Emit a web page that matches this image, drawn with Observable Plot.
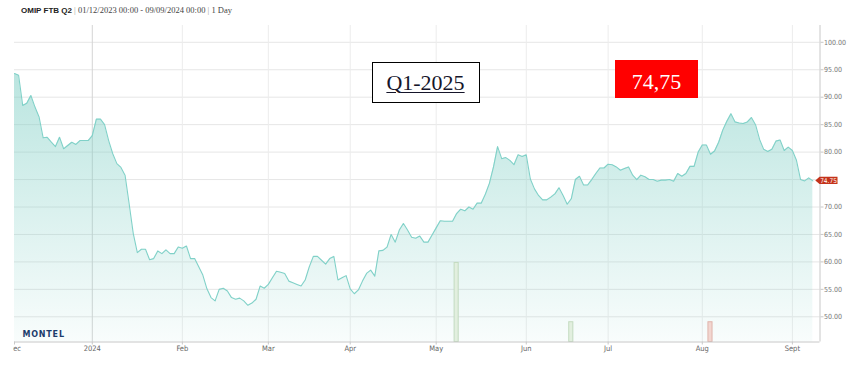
<!DOCTYPE html>
<html>
<head>
<meta charset="utf-8">
<script src="https://cdn.jsdelivr.net/npm/d3@7"></script>
<script src="https://cdn.jsdelivr.net/npm/@observablehq/plot@0.6"></script>
<style>
  html, body { margin: 0; padding: 0; background: #fff; }
  #wrap { position: relative; width: 852px; height: 367px; overflow: hidden; background: #fff; }
  #chart { position: absolute; left: 0; top: 0; }
  .title { position: absolute; left: 21px; top: 5px; white-space: nowrap; font: 8.5px "Liberation Serif", serif; color: #444; }
  .title b { font: bold 8px "Liberation Sans", Arial, sans-serif; color: #222; }
  .title .sep { color: #999; }
  .q1 { position: absolute; left: 371.5px; top: 61.5px; width: 108px; height: 41px; box-sizing: border-box;
        border: 1px solid #000; background: #fff; text-align: center; overflow: hidden;
        font: 22px/39px "Liberation Serif", serif; color: #15152a; }
  .q1 span { text-decoration: underline; text-decoration-thickness: 1px; text-underline-offset: 2px; }
  .price { position: absolute; left: 615px; top: 60px; width: 83px; height: 38px; background: #ff0000;
           text-align: center; font: 22px/44px "Liberation Serif", serif; color: #fff; overflow: hidden; }
  .logo { position: absolute; left: 22.5px; top: 330px; font: bold 8px "DejaVu Sans", sans-serif; letter-spacing: 0.8px; color: #1d3c6c; }
  .mask { position: absolute; left: 0; top: 343px; width: 13px; height: 14px; background: #fff; }
</style>
</head>
<body>
<div id="wrap">
  <div id="chart"></div>
  <div class="title"><b>OMIP FTB Q2</b> <span class="sep">|</span> 01/12/2023 00:00 - 09/09/2024 00:00 <span class="sep">|</span> 1 Day</div>
  <div class="q1"><span>Q1-2025</span></div>
  <div class="price">74,75</div>
  <div class="logo">MONTEL</div>
  <div class="mask"></div>
</div>
<script>
// ---- data ----
const startDate = "2023-12-01";
const endDate = "2024-09-09";
const holidays = ["2023-12-25", "2023-12-26", "2024-01-01", "2024-03-29", "2024-04-01", "2024-05-01"];

const values = [
  94.3, 94.0, 88.5, 88.9, 90.3, 88.2, 86.4, 82.6, 82.7, 81.8,
  81.0, 82.7, 80.6, 81.2, 81.8, 81.4, 82.1, 82.1, 82.1, 83.0,
  86.0, 86.0, 85.0, 82.1, 79.7, 77.9, 77.2, 75.8, 70.6, 65.2,
  61.7, 62.3, 62.3, 60.4, 60.6, 62.0, 61.5, 62.2, 61.5, 61.5,
  62.7, 62.5, 62.9, 60.6, 60.6, 59.1, 57.6, 55.1, 53.5, 52.9,
  55.0, 55.2, 54.7, 53.5, 53.2, 53.4, 52.9, 52.1, 52.5, 53.2,
  55.6, 55.2, 55.9, 57.1, 58.3,
  58.1, 57.9, 56.5, 56.2, 55.9, 55.6, 56.7, 59.1, 61.0, 61.0,
  60.3, 59.6, 60.6, 61.0, 56.7, 57.1, 57.5, 55.1, 54.2, 54.9,
  56.5, 57.9, 58.5, 57.4, 62.0, 62.1, 62.7, 65.0, 63.6, 65.8,
  67.0, 65.8, 64.5, 64.3, 64.7, 63.6, 63.6, 64.9, 66.2, 67.5,
  67.4, 67.4, 67.4, 68.8, 69.6, 69.3, 70.0, 69.6, 70.7, 70.7,
  72.3, 74.3, 77.3, 81.0, 78.8, 79.0, 78.5, 77.7, 79.5, 79.2,
  79.5, 75.1, 73.3, 72.1, 71.3, 71.3,
  71.8, 72.4, 73.5, 72.1, 70.5, 71.5, 75.0, 75.6, 74.0, 74.0,
  75.0, 76.1, 77.1, 77.1, 77.8, 77.7, 77.3, 76.7, 77.0, 77.3,
  75.8, 75.0, 75.8, 75.5, 75.0, 75.0, 74.7, 74.9, 74.9, 75.0,
  74.7, 76.1, 75.6, 76.1, 77.4, 77.4, 80.0, 81.3, 81.3, 79.6,
  80.2, 81.8, 84.0, 85.6, 87.0, 85.5, 85.3, 85.2, 85.5, 86.3,
  85.0, 82.3, 80.5, 80.1, 80.5, 82.0, 82.2, 80.3, 80.9, 80.3,
  78.5, 75.0, 74.75, 75.3, 74.75
];

const volDates = ["2024-05-09", "2024-06-18", "2024-08-05"];
const volValues = [4, 1, 1];
const volSide = ["buy", "buy", "sell"];

const monthLabels = ["Dec", "2024", "Feb", "Mar", "Apr", "May", "Jun", "Jul", "Aug", "Sept"];
const yTicks = [50, 55, 60, 65, 70, 75, 80, 85, 90, 95, 100];

// ---- trading calendar (ordinal x like Highstock) ----
const iso = d3.utcFormat("%Y-%m-%d");
const dates = d3.utcDays(new Date(startDate), d3.utcDay.offset(new Date(endDate), 1))
  .filter(d => d.getUTCDay() % 6 !== 0 && !holidays.includes(iso(d)));
const data = values.map((v, i) => ({i, v, date: dates[i]}));

const months = d3.utcMonths(new Date(startDate), new Date(endDate));
const monthPos = months.map(m => dates.findIndex(d => d >= m));
const posLabel = new Map(monthPos.map((p, k) => [p, monthLabels[k]]));
const janPos = monthPos[1];

const vol = volDates.map((ds, k) => ({i: dates.findIndex(d => iso(d) === ds), v: volValues[k], side: volSide[k]}));

const last = values[values.length - 1];
const yMin = 45.41, yMax = 103.06;
const xMax = 196.75;
const volUnit = 3.6; // price-axis units per volume unit (volume pane scale)
// the last-price flag hides the tick label it sits on
const yLabelTicks = yTicks.filter(t => Math.abs(t - last) > 1.5);

const chart = Plot.plot({
  width: 852,
  height: 367,
  marginLeft: 14,
  marginRight: 32.5,
  marginTop: 25,
  marginBottom: 25.5,
  x: {domain: [0, xMax], axis: null},
  y: {domain: [yMin, yMax], axis: null},
  style: {background: "transparent", overflow: "visible", fontFamily: "'Liberation Sans Narrow', 'DejaVu Sans Condensed', 'Arial Narrow', sans-serif"},
  marks: [
    Plot.gridY(yTicks, {stroke: "#e6e6e6", strokeOpacity: 1}),
    Plot.gridX(monthPos.filter(p => p !== janPos && p !== 0), {stroke: "#ececec", strokeOpacity: 1}),
    Plot.gridX([janPos], {stroke: "#d4d4d4", strokeOpacity: 1}),
    Plot.areaY(data, {x: "i", y1: yMin, y2: "v", fill: "url(#fillGrad)"}),
    Plot.rect(vol, {
      x1: d => d.i - 0.5, x2: d => d.i + 0.5,
      y1: yMin, y2: d => yMin + d.v * volUnit,
      fill: d => d.side === "buy" ? "#e2efdf" : "#f2d6d0",
      stroke: d => d.side === "buy" ? "#c3dbc0" : "#e0b4ab",
      strokeWidth: 1
    }),
    Plot.lineY(data, {x: "i", y: "v", stroke: "#80d1c8", strokeWidth: 1.1}),
    Plot.ruleY([yMin], {stroke: "#c8c8c8"}),
    Plot.ruleX([xMax], {stroke: "#c8c8c8"}),
    Plot.axisX(monthPos, {
      label: null,
      tickFormat: d => posLabel.get(d),
      tickSize: 3, tickPadding: 1, fontSize: 7.5,
      stroke: "#c8c8c8", fill: "#666"
    }),
    Plot.axisY(yTicks, {
      anchor: "right", label: null,
      tickFormat: d => yLabelTicks.includes(d) ? d.toFixed(2) : "",
      tickSize: 3, tickPadding: 1, fontSize: 7,
      stroke: "#c8c8c8", fill: "#777"
    })
  ]
});

document.getElementById("chart").appendChild(chart);

// gradient for the area
const sy = chart.scale("y"), sx = chart.scale("x");
const svg = d3.select(chart.tagName.toLowerCase() === "svg" ? chart : chart.querySelector("svg"));
const grad = svg.insert("defs", ":first-child").append("linearGradient")
  .attr("id", "fillGrad").attr("gradientUnits", "userSpaceOnUse")
  .attr("x1", 0).attr("x2", 0).attr("y1", sy.apply(yMax)).attr("y2", sy.apply(yMin));
grad.append("stop").attr("offset", 0).attr("stop-color", "#7ecec4").attr("stop-opacity", 0.62);
grad.append("stop").attr("offset", 1).attr("stop-color", "#7ecec4").attr("stop-opacity", 0.05);

// last price flag on the right axis
const fy = sy.apply(last), fx = sx.apply(xMax);
const g = svg.append("g");
g.append("path")
  .attr("d", `M${fx - 4.2},${fy} L${fx},${fy - 3.6} L${fx + 18},${fy - 3.6} L${fx + 18},${fy + 3.6} L${fx},${fy + 3.6} Z`)
  .attr("fill", "#c4331b");
g.append("text")
  .attr("x", fx + 9).attr("y", fy).attr("dy", "0.35em")
  .attr("text-anchor", "middle")
  .attr("font-size", 6.5)
  .attr("font-family", "'Liberation Sans Narrow', 'DejaVu Sans Condensed', sans-serif")
  .attr("fill", "#fff")
  .text(last.toFixed(2));
</script>
</body>
</html>
